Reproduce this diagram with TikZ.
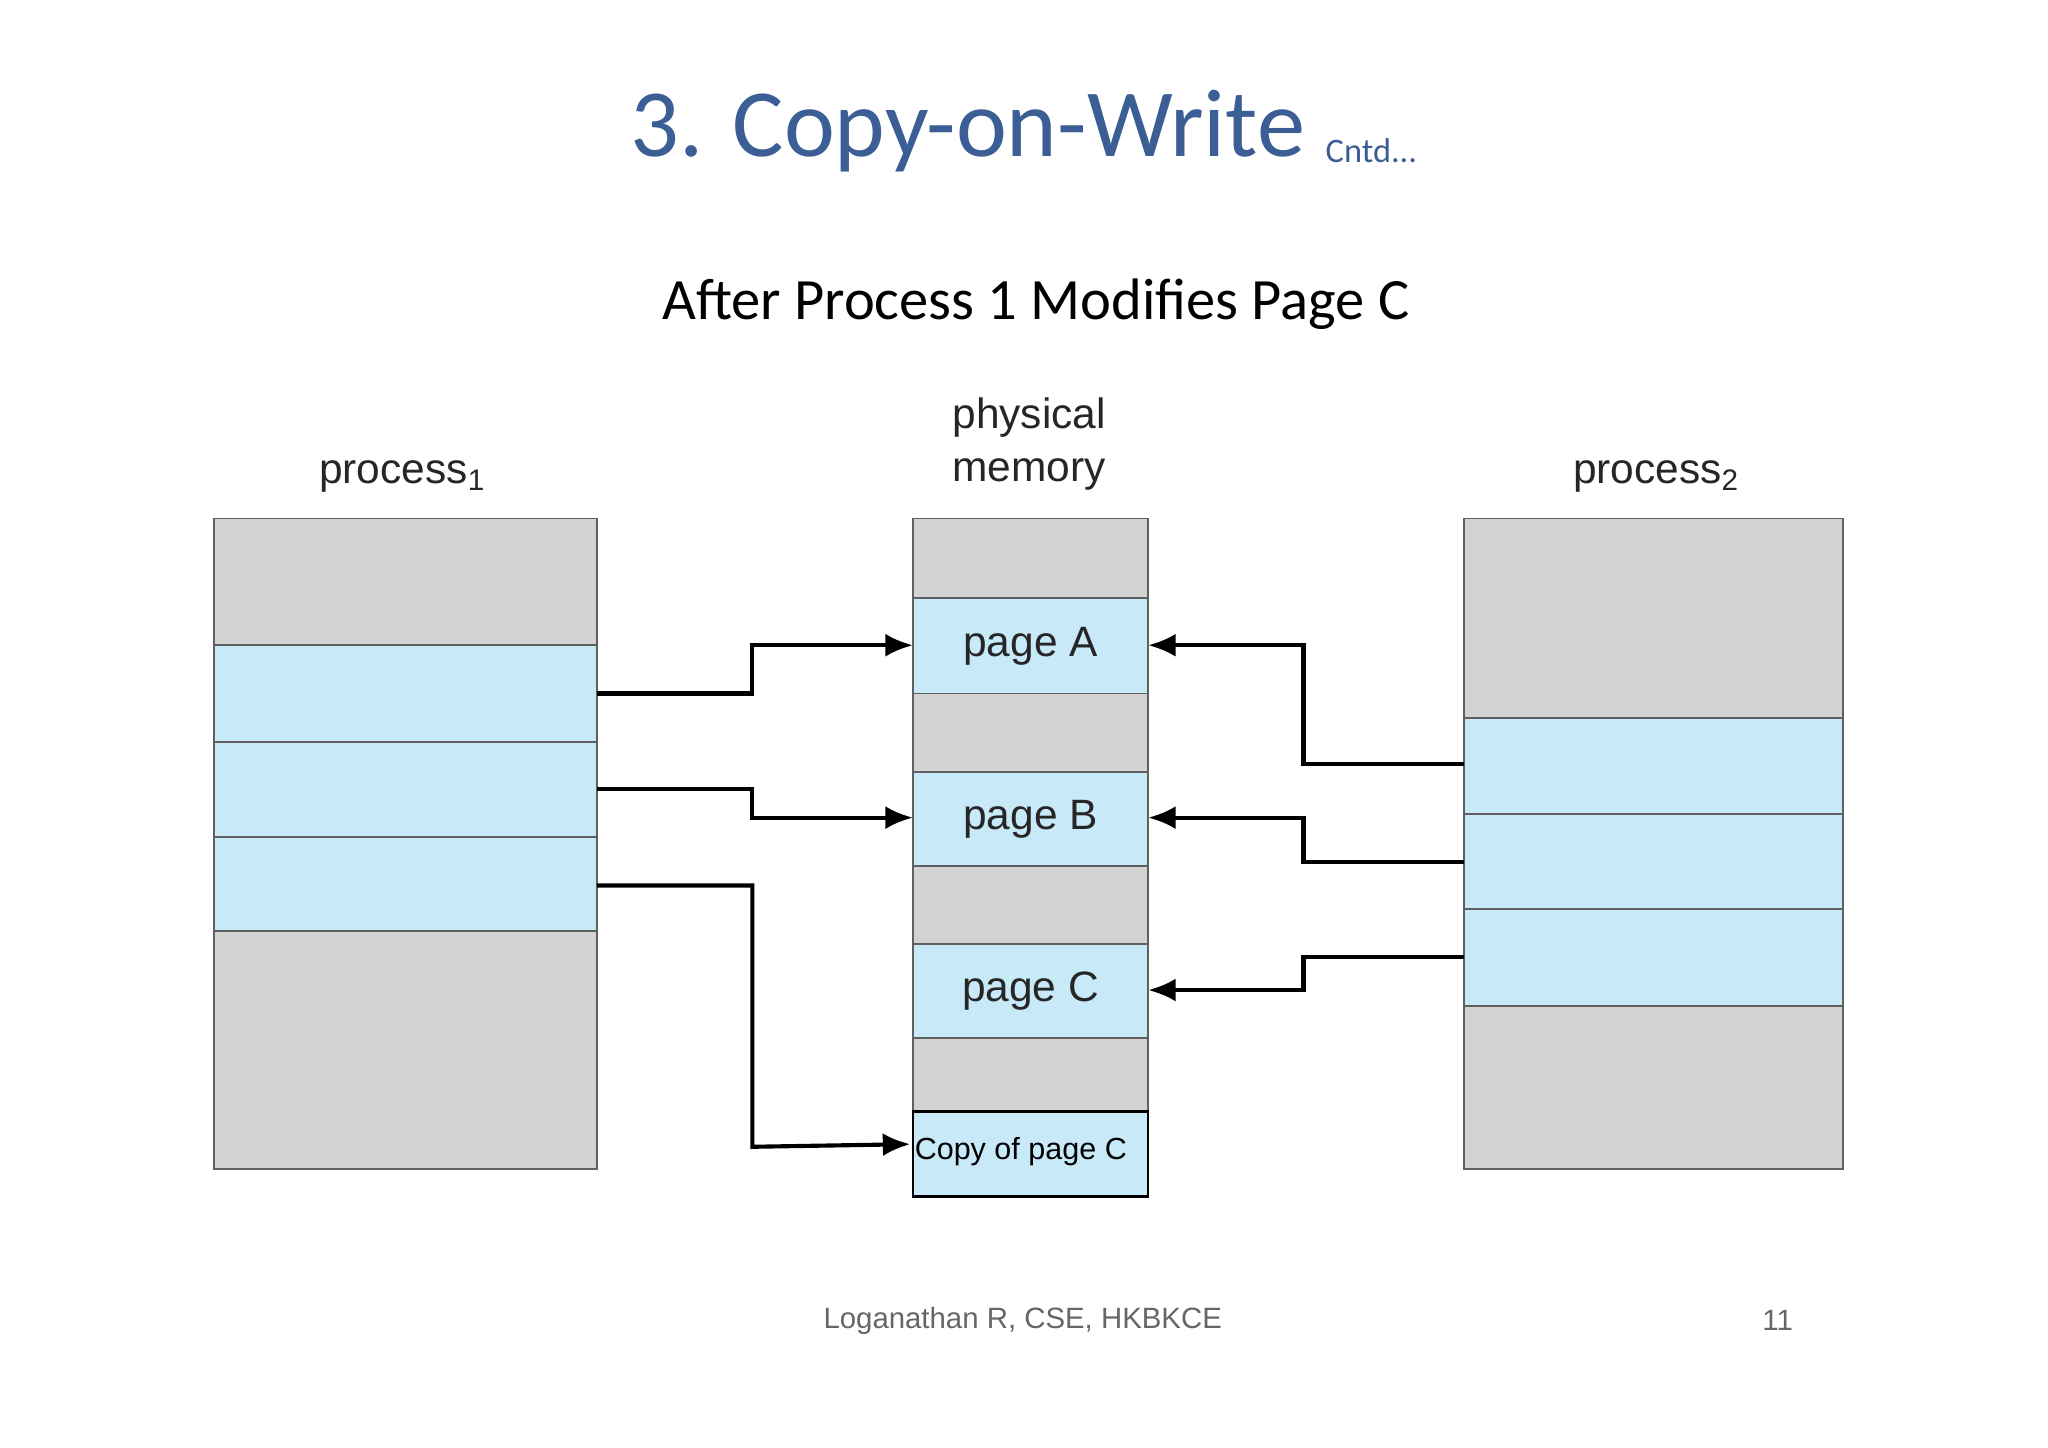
\documentclass[tikz,border=0pt]{standalone}
\usepackage{fontspec}
\setmainfont{Liberation Sans}
\newfontfamily\carl{Carlito}
\usetikzlibrary{arrows.meta}
\definecolor{tblue}{HTML}{3B5E95}
\definecolor{cellblue}{HTML}{C8E9F8}
\definecolor{cellgray}{HTML}{D3D3D3}
\definecolor{edge}{HTML}{606060}
\begin{document}
\begin{tikzpicture}[x=0.02cm,y=-0.02cm,
 g/.style={fill=cellgray,draw=edge,line width=0.8pt},
 b/.style={fill=cellblue,draw=edge,line width=0.8pt},
 arr/.style={line width=1.8pt,-{Latex[length=12pt,width=10pt]}},
 lab/.style={font=\fontsize{18.5}{23}\selectfont,text=black!85}]
\useasboundingbox (0,0) rectangle (1568,1108);
\node[font=\carl\fontsize{42}{48}\selectfont,text=tblue] (title) at (741,100) {3. Copy-on-Write};
\node[font=\carl\fontsize{15}{18}\selectfont,text=tblue] (cntd) at (1050,115) {Cntd...};
\node[font=\carl\fontsize{25.5}{30}\selectfont] (sub) at (793,233) {After Process 1 Modifies Page C};
% process1
\draw[g] (164,397) rectangle (457,494);
\draw[b] (164,494) rectangle (457,568);
\draw[b] (164,568) rectangle (457,641);
\draw[b] (164,641) rectangle (457,713);
\draw[g] (164,713) rectangle (457,895);
% physical
\draw[g] (699,397) rectangle (879,458);
\draw[b] (699,458) rectangle (879,531) node[midway,lab] (pa) {page A};
\draw[g] (699,531) rectangle (879,591);
\draw[b] (699,591) rectangle (879,663) node[midway,lab] (pb) {page B};
\draw[g] (699,663) rectangle (879,723);
\draw[b] (699,723) rectangle (879,795) node[midway,lab] (pc) {page C};
\draw[g] (699,795) rectangle (879,851);
\draw[fill=cellblue,draw=black,line width=1.2pt] (699,851) rectangle (879,916);
\node[anchor=west,inner sep=0pt,font=\fontsize{13.3}{16}\selectfont] (cp) at (700,882) {Copy of page C};
% process2
\draw[g] (1121,397) rectangle (1411,550);
\draw[b] (1121,550) rectangle (1411,623);
\draw[b] (1121,623) rectangle (1411,696);
\draw[b] (1121,696) rectangle (1411,770);
\draw[g] (1121,770) rectangle (1411,895);
% labels
\node[lab] (l1) at (308,365) {process\textsubscript{1}};
\node[lab,align=left] (lm) at (788,340) {physical\\memory};
\node[lab] (l2) at (1268,365) {process\textsubscript{2}};
% arrows
\coordinate (a1) at (457,531); \coordinate (a1e) at (699,494);
\coordinate (a2) at (457,604); \coordinate (a2e) at (699,626);
\coordinate (a3) at (457,678); \coordinate (a3e) at (697,876);
\draw[arr] (a1) -- (576,531) -- (576,494) -- (a1e);
\draw[arr] (a2) -- (576,604) -- (576,626) -- (a2e);
\draw[arr] (a3) -- (576,678) -- (576,878) -- (a3e);
\coordinate (b1) at (1121,585); \coordinate (b1e) at (879,494);
\coordinate (b2) at (1121,660); \coordinate (b2e) at (879,626);
\coordinate (b3) at (1121,733); \coordinate (b3e) at (879,758);
\draw[arr] (b1) -- (998,585) -- (998,494) -- (b1e);
\draw[arr] (b2) -- (998,660) -- (998,626) -- (b2e);
\draw[arr] (b3) -- (998,733) -- (998,758) -- (b3e);
% footer
\node[font=\fontsize{12.8}{15}\selectfont,text=black!60] (ft) at (783,1011) {Loganathan R, CSE, HKBKCE};
\node[font=\fontsize{12.8}{15}\selectfont,text=black!60] (pg) at (1361,1011) {11};
\end{tikzpicture}
\end{document}
